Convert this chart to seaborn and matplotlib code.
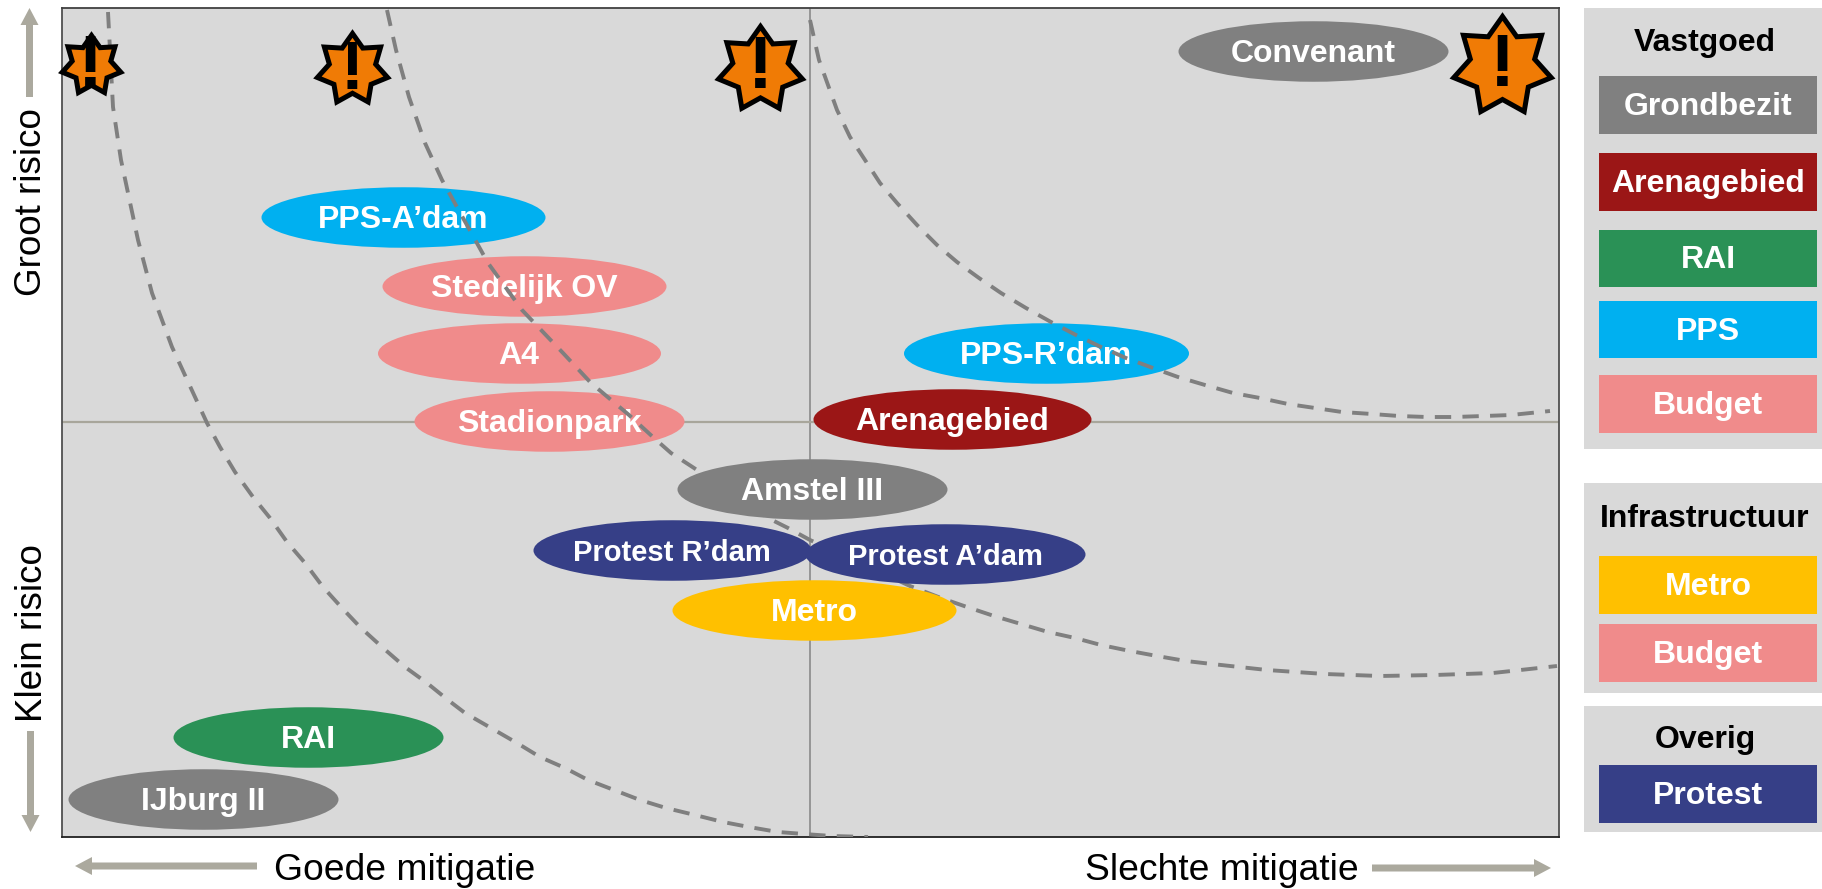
import numpy as np
import pandas as pd
import matplotlib
matplotlib.use("Agg")
import matplotlib.pyplot as plt
from matplotlib.markers import MarkerStyle
from matplotlib.patches import Rectangle
from matplotlib.path import Path
from matplotlib.transforms import Affine2D
import seaborn as sns

# ---- data (in reference pixels) ----
names = ["PPS-A’dam", "Stedelijk OV", "A4", "Stadionpark", "PPS-R’dam", "Arenagebied",
         "Convenant", "RAI", "IJburg II", "Amstel III", "Protest R’dam", "Protest A’dam", "Metro"]
mitigation = [403, 524, 519, 549, 1046, 952, 1313, 308, 203, 812, 672, 945, 814]
risk = [217, 286, 353, 421, 353, 419, 51, 737, 799, 489, 550, 554, 610]
spread = [284, 284, 283, 270, 285, 278, 270, 270, 270, 270, 278, 280, 284]
groups = ["PPS", "Budget", "Budget", "Budget", "PPS", "Arenagebied", "Grondbezit", "RAI",
          "Grondbezit", "Grondbezit", "Protest", "Protest", "Metro"]
label_sizes = [23, 23, 23, 23, 23, 23, 23, 23, 23, 23, 21, 21, 23]
above_curves = [False, False, False, False, False, True, True, True, True, True, True, True, True]

palette = {"Grondbezit": "#808080", "Arenagebied": "#9B1616", "RAI": "#2A9156", "PPS": "#00B0F0",
           "Budget": "#F08B8B", "Metro": "#FFC000", "Protest": "#363F87"}

curve1_x = [108, 113, 121, 138, 152, 172, 195, 207, 220, 235, 253, 270, 287, 305, 323, 342, 360, 382,
            405, 427, 448, 465, 491, 517, 540, 565, 588, 614, 640, 666, 695, 723, 749, 778, 804, 832, 868]
curve1_y = [12, 107, 160, 240, 293, 347, 397, 423, 447, 472, 497, 518, 542, 563, 587, 608, 627, 647,
            667, 683, 700, 713, 728, 743, 757, 768, 780, 790, 800, 808, 815, 822, 827, 832, 834, 836, 837]
curve2_x = [387, 396, 409, 425, 442, 468, 488, 522, 563, 591, 629, 654, 671, 694, 768, 788, 810, 910, 941,
            967, 994, 1021, 1048, 1075, 1101, 1130, 1157, 1186, 1212, 1267, 1325, 1380, 1435, 1493, 1557]
curve2_y = [10, 50, 97, 143, 180, 227, 263, 310, 353, 383, 415, 438, 453, 468, 518, 528, 540, 586, 598,
            607, 616, 624, 632, 638, 645, 651, 656, 661, 664, 670, 674, 676, 675, 673, 666]
curve3_x = [810, 819, 837, 850, 865, 880, 897, 917, 937, 957, 979, 1001, 1026, 1051, 1076, 1101, 1126, 1153,
            1178, 1205, 1233, 1260, 1288, 1315, 1342, 1372, 1399, 1427, 1454, 1484, 1511, 1550]
curve3_y = [20, 60, 110, 137, 160, 183, 203, 225, 245, 262, 278, 293, 308, 322, 335, 347, 358, 368,
            377, 385, 393, 398, 404, 408, 412, 414, 416, 417, 417, 416, 415, 411]

star_x = [91, 352, 760, 1502]
star_y = [65, 69, 69, 66]
star_radius = [30, 36, 43, 50]
mark_x = [90, 352, 760, 1502]
mark_y = [87, 89, 88, 86]
mark_sizes = [54, 50, 54, 54]

panel_tops = [8, 483, 706]
panel_bottoms = [449, 693, 832]
panel_titles = ["Vastgoed", "Infrastructuur", "Overig"]
title_baselines = [51, 527, 748]
legend_labels = ["Grondbezit", "Arenagebied", "RAI", "PPS", "Budget", "Metro", "Budget", "Protest"]
legend_tops = [76, 153, 230, 301, 375, 556, 624, 765]
legend_bottoms = [134, 211, 287, 358, 433, 614, 682, 823]

# ---- drawing ----
sns.set_style("white")
plt.rcParams["font.family"] = ["Liberation Sans", "DejaVu Sans"]

W, H = 1822, 889
fig = plt.figure(figsize=(W / 100, H / 100), dpi=100)
L, R, T, B = 62, 1559, 8, 837
ax = fig.add_axes([L / W, 1 - B / H, (R - L) / W, (B - T) / H])
ax.set_facecolor("#D9D9D9")
over = fig.add_axes([0, 0, 1, 1], facecolor="none")
over.set_xlim(0, W)
over.set_ylim(H, 0)
over.axis("off")
over.set_zorder(-1)

ax.axvline(810, color="#969696", lw=1.4, zorder=1)
ax.axhline(422.5, color="#A8A69B", lw=1.6, zorder=1)

circle = Path.unit_circle()
for nm, xv, yv, wd, grp, fs, top in zip(names, mitigation, risk, spread, groups, label_sizes, above_curves):
    shape = circle.transformed(Affine2D().scale(1, 60.5 / wd))
    z = 5 if top else 2
    frame = pd.DataFrame({"x": [xv], "y": [yv]})
    sns.scatterplot(data=frame, x="x", y="y", ax=ax, marker=MarkerStyle(shape), s=(wd * 0.72) ** 2,
                    color=palette[grp], linewidth=0, zorder=z, clip_on=False, legend=False)
    ax.text(xv, yv + 11, nm, color="white", fontsize=fs, fontweight="bold", ha="center", va="baseline",
            zorder=z + 1)

for cx, cy in [(curve1_x, curve1_y), (curve2_x, curve2_y), (curve3_x, curve3_y)]:
    sns.lineplot(x=cx, y=cy, ax=ax, color="#7F7F7F", linewidth=2.8, sort=False, estimator=None, zorder=4,
                 linestyle=(0, (4.2, 2.9)), legend=False)

ang = np.pi / 2 + np.arange(14) * np.pi / 7
rad = np.where(np.arange(14) % 2 == 0, 1.0, 0.66)
star_path = Path(np.c_[rad * np.cos(ang), rad * np.sin(ang)].tolist() + [[0, 1]],
                 [Path.MOVETO] + [Path.LINETO] * 13 + [Path.CLOSEPOLY])
for sx, sy, sr in zip(star_x, star_y, star_radius):
    sns.scatterplot(x=[sx], y=[sy], ax=ax, marker=MarkerStyle(star_path), s=(2 * sr * 0.72) ** 2,
                    color="#F07B05", edgecolor="black", linewidth=3.6, zorder=7, clip_on=False, legend=False)
    ax.collections[-1].set_joinstyle("miter")
for mx, my, ms in zip(mark_x, mark_y, mark_sizes):
    ax.text(mx, my, "!", color="black", fontsize=ms, fontweight="bold", ha="center", va="baseline", zorder=8)

ax.set_xlim(L, R)
ax.set_ylim(B, T)
ax.set_xlabel("")
ax.set_ylabel("")
ax.set_xticks([])
ax.set_yticks([])
for side, col in {"top": "#404040", "left": "#505050", "right": "#505050", "bottom": "#202020"}.items():
    ax.spines[side].set_visible(True)
    ax.spines[side].set_color(col)
    ax.spines[side].set_linewidth(1.3)

# legend panels
for top, bot, title, base in zip(panel_tops, panel_bottoms, panel_titles, title_baselines):
    over.add_patch(Rectangle((1584, top), W - 1584, bot - top, facecolor="#D9D9D9", edgecolor="none"))
    over.text(1705, base, title, color="black", fontsize=23, fontweight="bold", ha="center", va="baseline")
for lab, top, bot in zip(legend_labels, legend_tops, legend_bottoms):
    over.add_patch(Rectangle((1599, top), 218, bot - top, facecolor=palette[lab], edgecolor="none"))
    over.text(1708, (top + bot) / 2 + 10, lab, color="white", fontsize=23, fontweight="bold",
              ha="center", va="baseline")

# axis captions and arrows
arrow_col = "#ABA99E"
arrow_kw = dict(width=7, head_width=18, head_length=17, length_includes_head=True, color=arrow_col, lw=0)
over.arrow(29.5, 97, 0, -89, **arrow_kw)
over.arrow(30.5, 731, 0, 101, **arrow_kw)
over.arrow(257, 866, -182, 0, **arrow_kw)
over.arrow(1372, 868, 179, 0, **arrow_kw)
over.text(274, 880, "Goede mitigatie", fontsize=26.8, color="black", ha="left", va="baseline")
over.text(1085, 880, "Slechte mitigatie", fontsize=26.8, color="black", ha="left", va="baseline")
over.text(41, 202, "Groot risico", fontsize=26.5, color="black", rotation=90, rotation_mode="anchor",
          ha="center", va="baseline")
over.text(42, 633, "Klein risico", fontsize=26.5, color="black", rotation=90, rotation_mode="anchor",
          ha="center", va="baseline")

fig.savefig("out.png", dpi=100)
